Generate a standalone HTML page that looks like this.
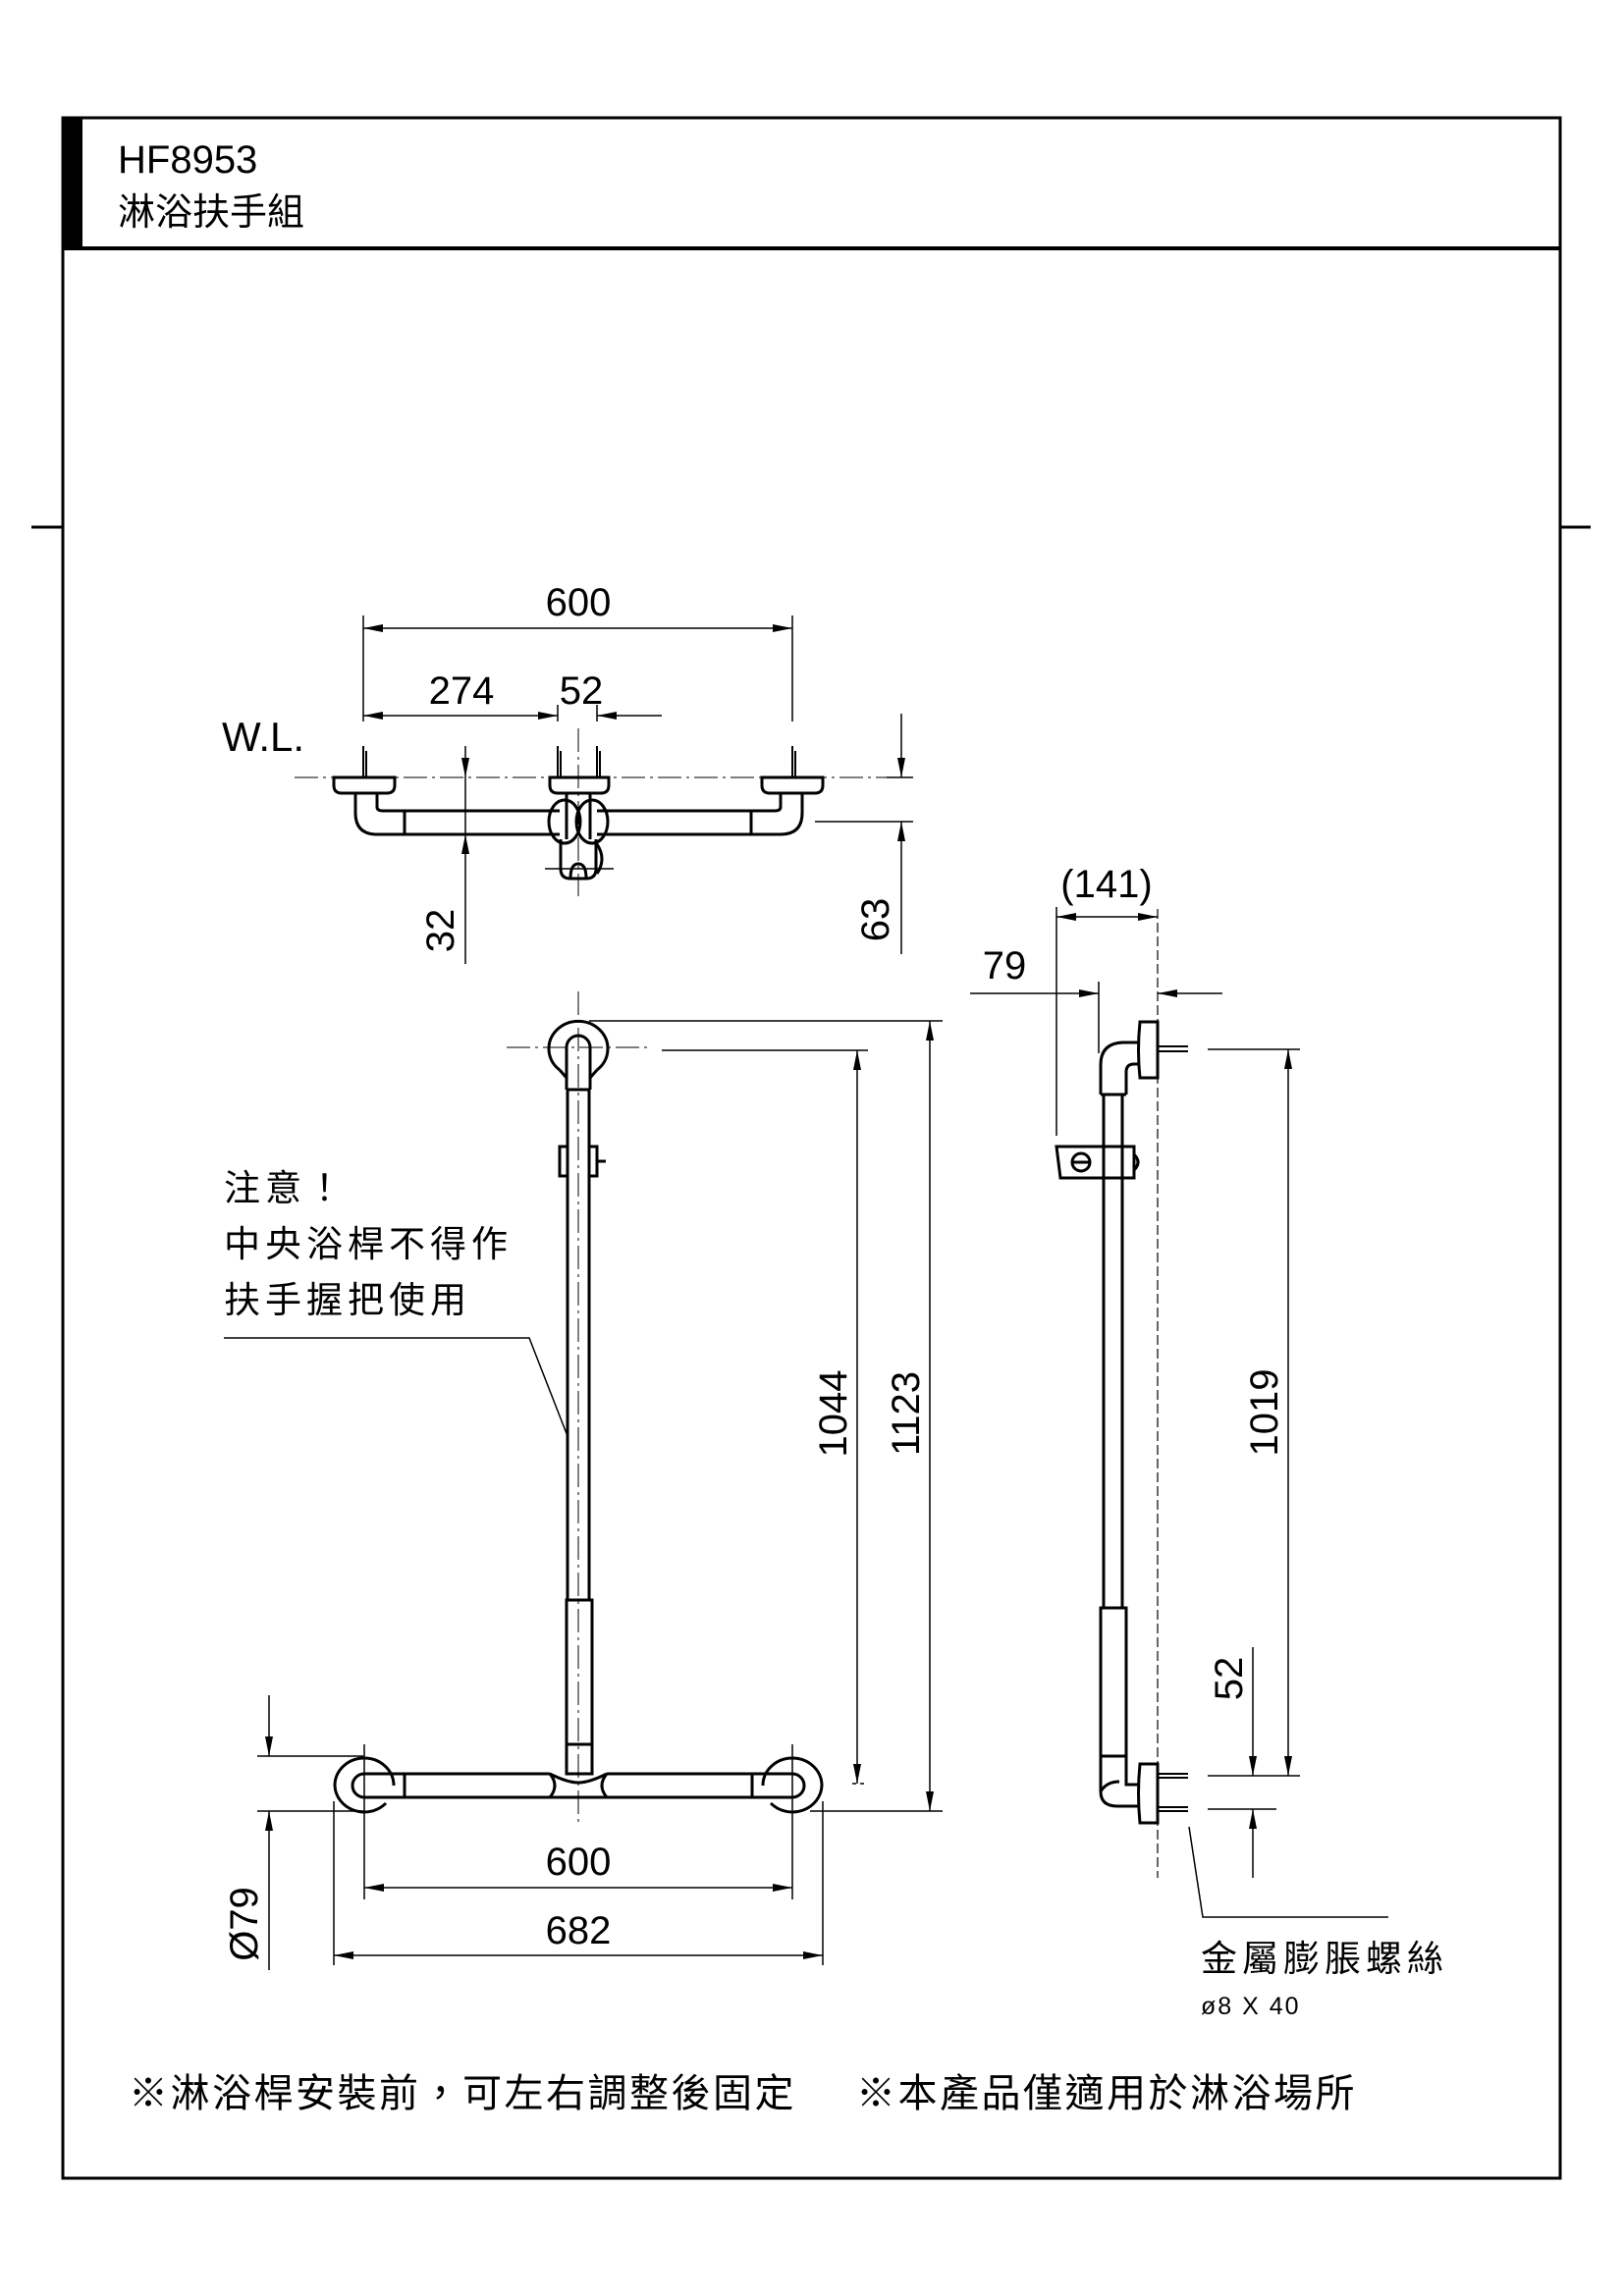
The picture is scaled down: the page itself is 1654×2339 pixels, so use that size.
<!DOCTYPE html>
<html><head><meta charset="utf-8"><style>
html,body{margin:0;padding:0;background:#fff}
svg{display:block}
text{font-family:"Liberation Sans","Noto Sans CJK TC",sans-serif;fill:#000}
</style></head><body>
<svg width="1654" height="2339" viewBox="0 0 1654 2339" xmlns="http://www.w3.org/2000/svg">
<defs>
<marker id="a" viewBox="0 0 20 8" refX="20" refY="4" markerWidth="20" markerHeight="8" markerUnits="userSpaceOnUse" orient="auto-start-reverse"><path d="M0,0 L20,4 L0,8 z" fill="#000"/></marker>
</defs>
<!-- frame -->
<rect x="64" y="120" width="1525" height="2099" fill="none" stroke="#000" stroke-width="3"/>
<rect x="64" y="120" width="20" height="133" fill="#000"/>
<line x1="64" y1="253" x2="1589" y2="253" stroke="#000" stroke-width="4"/>
<line x1="32" y1="537" x2="64" y2="537" stroke="#000" stroke-width="3"/>
<line x1="1589" y1="537" x2="1620" y2="537" stroke="#000" stroke-width="3"/>
<text x="120" y="176" font-size="40">HF8953</text>
<text x="120" y="229" font-size="38">淋浴扶手組</text>

<g stroke="#000" fill="none" stroke-width="1.5">
<!-- TOP VIEW -->
<line x1="370" y1="627" x2="370" y2="735"/><line x1="807" y1="627" x2="807" y2="735"/>
<line x1="370" y1="640" x2="807" y2="640" marker-start="url(#a)" marker-end="url(#a)"/>
<line x1="370" y1="729" x2="568" y2="729" marker-start="url(#a)" marker-end="url(#a)"/>
<line x1="674" y1="729" x2="608" y2="729" marker-end="url(#a)"/>
<line x1="568" y1="718" x2="568" y2="735"/><line x1="608" y1="718" x2="608" y2="735"/>
<line x1="300" y1="792" x2="930" y2="792" stroke-dasharray="24,5,3,5" stroke-width="1"/>
<line x1="589" y1="742" x2="589" y2="913" stroke-dasharray="24,5,3,5" stroke-width="1"/>
<g stroke-width="2">
<line x1="370" y1="760" x2="370" y2="792"/><line x1="373" y1="765" x2="373" y2="792"/>
<line x1="568" y1="760" x2="568" y2="792"/><line x1="571" y1="765" x2="571" y2="792"/>
<line x1="608" y1="760" x2="608" y2="792"/><line x1="611" y1="765" x2="611" y2="792"/>
<line x1="807" y1="760" x2="807" y2="792"/><line x1="810" y1="765" x2="810" y2="792"/>
</g>
<g stroke-width="3">
<path d="M340,792 L402,792 L402,800 Q402,808 394,808 L348,808 Q340,808 340,800 Z"/>
<path d="M560,792 L620,792 L620,800 Q620,808 612,808 L568,808 Q560,808 560,800 Z"/>
<path d="M776,792 L838,792 L838,800 Q838,808 830,808 L784,808 Q776,808 776,800 Z"/>
<path d="M362,808 L362,828 Q362,850 384,850 L570,850 M608,850 L795,850 Q817,850 817,828 L817,808"/>
<path d="M384,808 L384,822 Q384,826 390,826 L570,826 M608,826 L789,826 Q795,826 795,822 L795,808"/>
<line x1="412" y1="826" x2="412" y2="850"/><line x1="765" y1="826" x2="765" y2="850"/>
<ellipse cx="575" cy="837" rx="16" ry="22"/><ellipse cx="603" cy="837" rx="16" ry="22"/>
<path d="M577,808 L577,855 M601,808 L601,855"/>
<path d="M571,855 L571,885 Q571,895 581,895 L597,895 Q607,895 607,885 L607,855"/>
<path d="M608,860 Q618,875 608,890"/>
<path d="M581,895 Q581,880 589,880 Q597,880 597,895"/>
</g>
<line x1="555" y1="885" x2="625" y2="885" stroke-width="1.5"/>
<line x1="918" y1="727" x2="918" y2="792" marker-end="url(#a)"/>
<line x1="918" y1="972" x2="918" y2="837" marker-end="url(#a)"/>
<line x1="903" y1="792" x2="930" y2="792"/><line x1="830" y1="837" x2="930" y2="837"/>
<line x1="474" y1="760" x2="474" y2="792" marker-end="url(#a)"/>
<line x1="474" y1="982" x2="474" y2="850" marker-end="url(#a)"/>
<line x1="474" y1="792" x2="474" y2="850"/>

<!-- FRONT VIEW -->
<line x1="589" y1="1010" x2="589" y2="1860" stroke-dasharray="24,5,3,5" stroke-width="1"/>
<line x1="516" y1="1067" x2="662" y2="1067" stroke-dasharray="24,5,3,5" stroke-width="1"/>
<g stroke-width="3">
<path d="M570,1090 A30,28 0 1 1 608,1090"/>
<path d="M577,1110 L577,1067 A12,12 0 0 1 601,1067 L601,1110"/>
<path d="M570,1090 L577,1098 M608,1090 L601,1098"/>
<line x1="577" y1="1110" x2="601" y2="1110"/>
<line x1="578" y1="1110" x2="578" y2="1630"/><line x1="600" y1="1110" x2="600" y2="1630"/>
<rect x="570" y="1168" width="8" height="30"/><rect x="600" y="1168" width="8" height="30"/>
<line x1="608" y1="1183" x2="617" y2="1183"/>
<rect x="577" y="1630" width="26" height="177"/>
<line x1="577" y1="1777" x2="603" y2="1777"/>
<path d="M371,1819 m-30,0 a30,28 0 1 1 60,0"/>
<path d="M341,1819 a30,28 0 0 0 52,18"/>
<path d="M807,1819 m-30,0 a30,28 0 1 1 60,0"/>
<path d="M837,1819 a30,28 0 0 1 -52,18"/>
<path d="M371,1807 L560,1807 M618,1807 L807,1807 M371,1831 L560,1831 M618,1831 L807,1831"/>
<path d="M371,1807 a12,12 0 0 0 0,24 M807,1807 a12,12 0 0 1 0,24"/>
<line x1="412" y1="1807" x2="412" y2="1831"/><line x1="766" y1="1807" x2="766" y2="1831"/>
<path d="M560,1807 Q570,1819 560,1831 L618,1831 Q608,1819 618,1807 Q600,1816 589,1816 Q578,1816 560,1807 Z"/>
</g>
<line x1="674" y1="1070" x2="884" y2="1070"/>
<line x1="873" y1="1070" x2="873" y2="1817" marker-start="url(#a)" marker-end="url(#a)"/>
<line x1="868" y1="1817" x2="884" y2="1817" stroke-dasharray="4,4"/>
<line x1="600" y1="1040" x2="960" y2="1040"/>
<line x1="825" y1="1845" x2="960" y2="1845"/>
<line x1="947" y1="1040" x2="947" y2="1845" marker-start="url(#a)" marker-end="url(#a)"/>
<line x1="262" y1="1789" x2="370" y2="1789"/><line x1="262" y1="1845" x2="370" y2="1845"/>
<line x1="274" y1="1727" x2="274" y2="1789" marker-end="url(#a)"/>
<line x1="274" y1="2007" x2="274" y2="1845" marker-end="url(#a)"/>
<line x1="371" y1="1777" x2="371" y2="1935"/><line x1="807" y1="1777" x2="807" y2="1935"/>
<line x1="371" y1="1923" x2="807" y2="1923" marker-start="url(#a)" marker-end="url(#a)"/>
<line x1="340" y1="1835" x2="340" y2="2002"/><line x1="838" y1="1835" x2="838" y2="2002"/>
<line x1="340" y1="1992" x2="838" y2="1992" marker-start="url(#a)" marker-end="url(#a)"/>
<polyline points="228,1363 539,1363 578,1463"/>

<!-- SIDE VIEW -->
<line x1="1179" y1="926" x2="1179" y2="1913" stroke-dasharray="10,4" stroke-width="1.2"/>
<line x1="1076" y1="924" x2="1076" y2="1157"/>
<line x1="1076" y1="934" x2="1179" y2="934" marker-start="url(#a)" marker-end="url(#a)"/>
<line x1="988" y1="1012" x2="1119" y2="1012" marker-end="url(#a)"/>
<line x1="1245" y1="1012" x2="1179" y2="1012" marker-end="url(#a)"/>
<line x1="1119" y1="1000" x2="1119" y2="1073"/>
<g stroke-width="3">
<path d="M1121,1115 L1121,1085 Q1121,1062 1145,1062 L1161,1062"/>
<path d="M1147,1115 L1147,1092 Q1147,1084 1155,1084 L1161,1084"/>
<path d="M1161,1041 L1179,1041 L1179,1098 L1161,1098 Q1158,1070 1161,1041 Z"/>
<line x1="1121" y1="1115" x2="1147" y2="1115"/>
<line x1="1124" y1="1115" x2="1124" y2="1638"/><line x1="1143" y1="1115" x2="1143" y2="1638"/>
<path d="M1076,1168 L1155,1168 L1155,1200 L1080,1200 Z"/>
<circle cx="1101" cy="1184" r="9"/><line x1="1093" y1="1184" x2="1109" y2="1184"/>
<path d="M1155,1176 Q1163,1184 1155,1192"/>
<rect x="1121" y="1638" width="26" height="151"/>
<line x1="1121" y1="1789" x2="1147" y2="1789"/>
<path d="M1121,1789 L1121,1825 Q1121,1840 1138,1840 L1161,1840"/>
<path d="M1147,1789 L1147,1818 L1161,1818"/>
<path d="M1121,1825 Q1127,1815 1140,1815"/>
<path d="M1161,1797 L1179,1797 L1179,1857 L1161,1857 Q1158,1827 1161,1797 Z"/>
</g>
<g stroke-width="2">
<line x1="1179" y1="1066" x2="1210" y2="1066"/><line x1="1179" y1="1071" x2="1210" y2="1071"/>
<line x1="1179" y1="1807" x2="1210" y2="1807"/><line x1="1179" y1="1811" x2="1210" y2="1811"/>
<line x1="1179" y1="1841" x2="1210" y2="1841"/><line x1="1179" y1="1845" x2="1210" y2="1845"/>
</g>
<line x1="1230" y1="1069" x2="1324" y2="1069"/>
<line x1="1312" y1="1069" x2="1312" y2="1809" marker-start="url(#a)" marker-end="url(#a)"/>
<line x1="1230" y1="1809" x2="1324" y2="1809"/>
<line x1="1230" y1="1843" x2="1300" y2="1843"/>
<line x1="1276" y1="1678" x2="1276" y2="1809" marker-end="url(#a)"/>
<line x1="1276" y1="1913" x2="1276" y2="1843" marker-end="url(#a)"/>
<polyline points="1211,1861 1225,1953 1414,1953"/>
</g>

<!-- labels -->
<g font-size="40" text-anchor="middle">
<text x="589" y="627">600</text>
<text x="470" y="717">274</text>
<text x="592" y="717">52</text>
<text x="589" y="1910">600</text>
<text x="589" y="1980">682</text>
<text x="1127" y="914">(141)</text>
<text x="1023" y="997">79</text>
<text transform="translate(462,948) rotate(-90)">32</text>
<text transform="translate(905,937) rotate(-90)">63</text>
<text transform="translate(862,1440) rotate(-90)">1044</text>
<text transform="translate(936,1440) rotate(-90)">1123</text>
<text transform="translate(1301,1439) rotate(-90)">1019</text>
<text transform="translate(1265,1710) rotate(-90)">52</text>
<text transform="translate(262,1960) rotate(-90)">Ø79</text>
</g>
<text x="226" y="765" font-size="42">W.L.</text>
<g font-size="37" letter-spacing="5">
<text x="228" y="1223">注意！</text>
<text x="228" y="1280">中央浴桿不得作</text>
<text x="228" y="1337">扶手握把使用</text>
<text x="1223" y="2008">金屬膨脹螺絲</text>
</g>
<text x="1223" y="2052" font-size="25" letter-spacing="2">ø8 X 40</text>
<g font-size="40" letter-spacing="2.5">
<text x="131" y="2146">※淋浴桿安裝前，可左右調整後固定</text>
<text x="872" y="2146">※本產品僅適用於淋浴場所</text>
</g>
</svg>
</body></html>
